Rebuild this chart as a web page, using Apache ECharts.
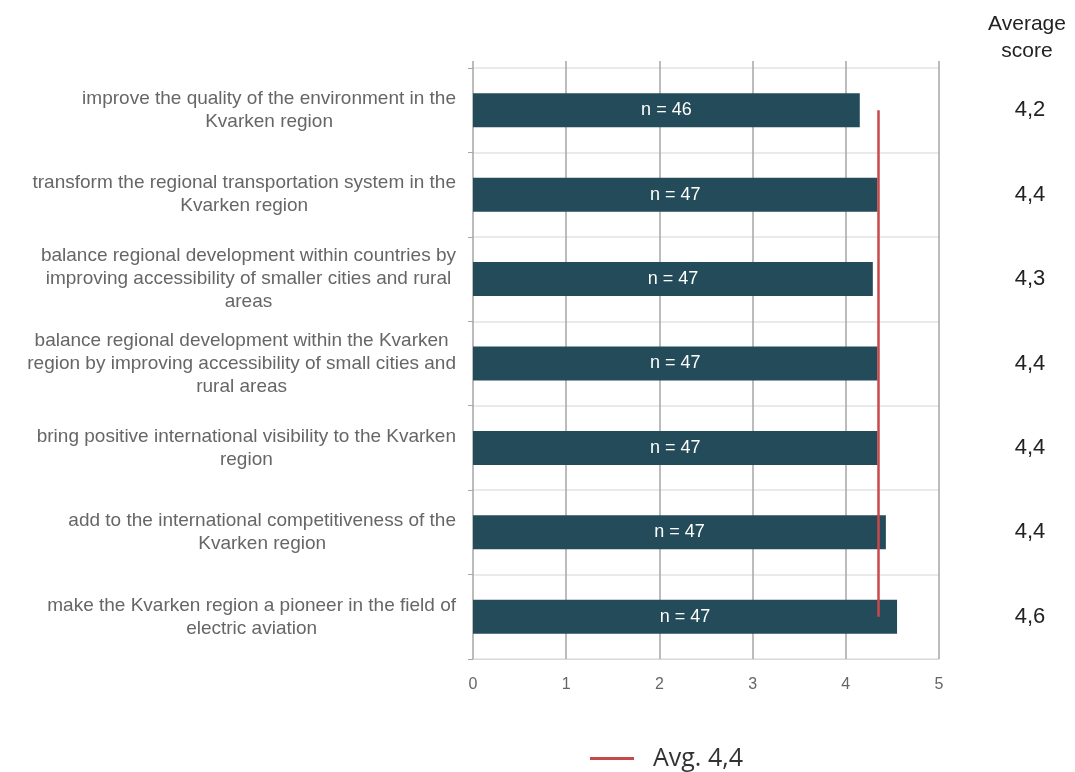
<!DOCTYPE html>
<html>
<head>
<meta charset="utf-8">
<script src="https://cdn.jsdelivr.net/npm/echarts@6/dist/echarts.min.js"></script>
<style>
  html, body { margin: 0; padding: 0; background: #fff; }
  #chart { width: 1075px; height: 772px; }
</style>
</head>
<body>
<div id="chart"></div>
<script>
// statements (top to bottom)
const categories = [
  "improve the quality of the environment in the\nKvarken region",
  "transform the regional transportation system in the\nKvarken region",
  "balance regional development within countries by\nimproving accessibility of smaller cities and rural\nareas",
  "balance regional development within the Kvarken\nregion by improving accessibility of small cities and\nrural areas",
  "bring positive international visibility to the Kvarken\nregion",
  "add to the international competitiveness of the\nKvarken region",
  "make the Kvarken region a pioneer in the field of\nelectric aviation"
];
const scores = [4.15, 4.34, 4.29, 4.34, 4.34, 4.43, 4.55];
const respondents = [46, 47, 47, 47, 47, 47, 47];
const scoreLabels = ["4,2", "4,4", "4,3", "4,4", "4,4", "4,4", "4,6"];
const avgValue = 4.35;
const avgName = "Avg. 4,4";
const xTicks = [0, 1, 2, 3, 4, 5];

const chart = echarts.init(document.getElementById("chart"));

const option = {
  backgroundColor: "#fff",
  animation: false,
  title: {
    text: "Average\nscore",
    left: 1022,
    top: 6,
    textAlign: "center",
    textStyle: { fontSize: 21, lineHeight: 27, fontWeight: "normal", color: "#222", fontFamily: "Liberation Sans" }
  },
  legend: {
    data: [avgName],
    left: 585,
    top: 741,
    icon: "rect",
    itemWidth: 44,
    itemHeight: 3,
    itemGap: 10,
    textStyle: { fontSize: 25, color: "#333", fontFamily: "Open Sans", padding: [0, 0, 0, 14] }
  },
  grid: { left: 473, right: 136, top: 68, bottom: 113 },
  xAxis: [
    {
      type: "value",
      min: xTicks[0],
      max: xTicks[xTicks.length - 1],
      interval: 1,
      axisLine: { show: true, lineStyle: { color: "#d9d9d9", width: 1 } },
      axisTick: { show: false },
      axisLabel: { color: "#666", fontSize: 16, margin: 18, fontFamily: "Liberation Sans" },
      splitLine: { show: true, lineStyle: { color: "#a6a6a6", width: 1.5 } }
    },
    {
      type: "value",
      position: "top",
      min: xTicks[0],
      max: xTicks[xTicks.length - 1],
      interval: 1,
      axisLine: { show: false },
      axisTick: { show: true, length: 7, lineStyle: { color: "#a6a6a6", width: 1.5 } },
      axisLabel: { show: false },
      splitLine: { show: false }
    }
  ],
  yAxis: [
    {
      type: "category",
      data: categories,
      inverse: true,
      axisLine: { show: false },
      axisTick: { show: true, length: 5, lineStyle: { color: "#a6a6a6" } },
      splitLine: { show: true, lineStyle: { color: "#e3e3e3", width: 1.5 } },
      axisLabel: {
        margin: 17,
        formatter: v => v.split("\n").map(l => "{c|" + l + "}").join("\n"),
        rich: {
          c: { align: "center", fontSize: 19, lineHeight: 23, color: "#666", fontFamily: "Liberation Sans" }
        }
      }
    },
    {
      type: "category",
      data: categories,
      inverse: true,
      position: "right",
      offset: 91,
      axisLine: { show: false },
      axisTick: { show: false },
      splitLine: { show: false },
      axisLabel: {
        margin: 0,
        align: "center",
        color: "#222",
        fontSize: 22,
        fontFamily: "Liberation Sans",
        formatter: (v, i) => scoreLabels[i]
      }
    }
  ],
  series: [
    {
      type: "bar",
      data: scores,
      barWidth: 34,
      itemStyle: { color: "#244b59" },
      label: {
        show: true,
        position: "inside",
        color: "#fff",
        fontSize: 18,
        fontFamily: "Liberation Sans",
        formatter: p => "n = " + respondents[p.dataIndex]
      }
    },
    {
      type: "line",
      name: avgName,
      data: [],
      itemStyle: { color: "#c8494a" },
      lineStyle: { color: "#c8494a", width: 3 },
      markLine: {
        symbol: ["none", "none"],
        silent: true,
        label: { show: false },
        lineStyle: { color: "#c8494a", width: 2.5, type: "solid" },
        data: [[
          { coord: [avgValue, categories[0]] },
          { coord: [avgValue, categories[categories.length - 1]] }
        ]]
      }
    }
  ]
};

chart.setOption(option);
</script>
</body>
</html>
